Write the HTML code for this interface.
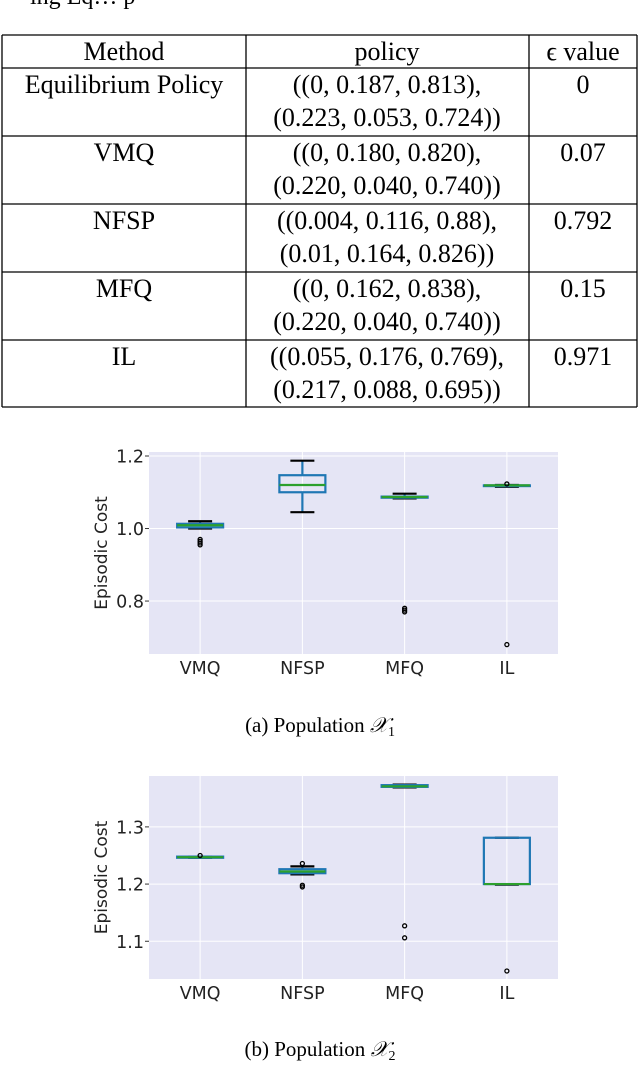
<!DOCTYPE html>
<html><head><meta charset="utf-8"><style>
body{margin:0;background:#fff;width:640px;height:1062px;overflow:hidden}
svg text{font-family:"Liberation Serif",serif}
.s text{font-family:"DejaVu Sans","Liberation Sans",sans-serif}
</style></head><body>
<svg id="root" width="640" height="1062" xmlns="http://www.w3.org/2000/svg">
<text x="30" y="4" font-size="24">ing Eq… p</text>
<g id="table" stroke="#000" stroke-width="1.3"></g>
<g id="c1" class="s"></g>
<text x="320" y="732" font-size="21" text-anchor="middle">(a) Population <tspan font-style="italic">𝒳</tspan><tspan font-size="14" dy="4">1</tspan></text>
<g id="c2" class="s"></g>
<text x="320" y="1056" font-size="21" text-anchor="middle">(b) Population <tspan font-style="italic">𝒳</tspan><tspan font-size="14" dy="4">2</tspan></text>
</svg>
<script>
const NS="http://www.w3.org/2000/svg";
function mk(p,t,a){const e=document.createElementNS(NS,t);for(const k in a)e.setAttribute(k,a[k]);p.appendChild(e);return e;}
// table
const methods=["Equilibrium Policy","VMQ","NFSP","MFQ","IL"];
const pol1=["((0, 0.187, 0.813),","((0, 0.180, 0.820),","((0.004, 0.116, 0.88),","((0, 0.162, 0.838),","((0.055, 0.176, 0.769),"];
const pol2=["(0.223, 0.053, 0.724))","(0.220, 0.040, 0.740))","(0.01, 0.164, 0.826))","(0.220, 0.040, 0.740))","(0.217, 0.088, 0.695))"];
const eps=["0","0.07","0.792","0.15","0.971"];
const T=document.getElementById('table');
const xs=[2,246,529,637];
[35,68,136,204,272,340,407].forEach(y=>{const l=mk(T,'line',{x1:2,x2:637,y1:y,y2:y});});
xs.forEach(x=>{const l=mk(T,'line',{x1:x,x2:x,y1:35,y2:407});});
function tt(x,y,s,n){const t=mk(T,'text',{x:x,y:y,'font-size':26,'text-anchor':'middle',stroke:'none',fill:'#000'});t.textContent=s;}
tt(124,60,"Method","header-method");tt(387,60,"policy","header-policy");tt(583,60,"ϵ value","header-epsilon");
methods.forEach((m,i)=>{const y=93+i*68;tt(124,y,m,"method-cell");tt(387,y,pol1[i],"policy-cell");tt(387,y+33,pol2[i],"policy-cell");tt(583,y,eps[i],"epsilon-cell");});
// charts
const cats=["VMQ","NFSP","MFQ","IL"];
const lo1=[1.000,1.045,1.083,1.115],q11=[1.003,1.100,1.085,1.117],med1=[1.009,1.120,1.087,1.119],q31=[1.013,1.147,1.088,1.119],hi1=[1.020,1.187,1.096,1.120];
const out1=[[0.955,0.96,0.965,0.97],[],[0.77,0.775,0.78],[0.68,1.123]];
const ticks1=[0.8,1.0,1.2];
const lo2=[1.246,1.217,1.369,1.199],q12=[1.246,1.219,1.370,1.200],med2=[1.247,1.222,1.371,1.200],q32=[1.248,1.226,1.373,1.281],hi2=[1.248,1.231,1.374,1.281];
const out2=[[1.250],[1.236,1.195,1.198],[1.106,1.127],[1.048]];
const ticks2=[1.1,1.2,1.3];
function chart(id,top,bot,ymin,ymax,lo,q1,med,q3,hi,out,ticks){
 const g=document.getElementById(id),L=149,R=558;
 const y=v=>bot-(v-ymin)/(ymax-ymin)*(bot-top);
 const x=i=>L+(i+0.5)*(R-L)/cats.length;
 const bg=mk(g,'rect',{x:L,y:top,width:R-L,height:bot-top,fill:'#e5e5f5'});
 ticks.forEach(t=>{const l=mk(g,'line',{x1:L,x2:R,y1:y(t),y2:y(t),stroke:'#fff','stroke-width':1});
  const tk=mk(g,'line',{x1:L-4,x2:L,y1:y(t),y2:y(t),stroke:'#333'});
  const tx=mk(g,'text',{x:L-5,y:y(t)+6.5,'font-size':17.5,'text-anchor':'end',fill:'#222'});tx.textContent=t.toFixed(1);});
 cats.forEach((c,i)=>{const cx=x(i);
  const vl=mk(g,'line',{x1:cx,x2:cx,y1:top,y2:bot,stroke:'#fff','stroke-width':1});
  const w=mk(g,'line',{x1:cx,x2:cx,y1:y(hi[i]),y2:y(q3[i]),stroke:'#1f77b4','stroke-width':2.2});
  const w2=mk(g,'line',{x1:cx,x2:cx,y1:y(q1[i]),y2:y(lo[i]),stroke:'#1f77b4','stroke-width':2.2});
  [lo[i],hi[i]].forEach(v=>{const c2=mk(g,'line',{x1:cx-12,x2:cx+12,y1:y(v),y2:y(v),stroke:'#000','stroke-width':2.2});});
  const b=mk(g,'rect',{x:cx-23,y:y(q3[i]),width:46,height:Math.max(y(q1[i])-y(q3[i]),0.5),fill:'none',stroke:'#1f77b4','stroke-width':2.2});
  const m=mk(g,'line',{x1:cx-23,x2:cx+23,y1:y(med[i]),y2:y(med[i]),stroke:'#2ca02c','stroke-width':2.2});
  out[i].forEach(v=>{const o=mk(g,'circle',{cx:cx,cy:y(v),r:2,fill:'none',stroke:'#000','stroke-width':1.3});});
  const tx=mk(g,'text',{x:cx,y:bot+20,'font-size':17.5,'text-anchor':'middle',fill:'#222'});tx.textContent=c;});
 const yl=mk(g,'text',{x:0,y:0,'font-size':17,'text-anchor':'middle',fill:'#222',transform:`translate(107,${(top+bot)/2}) rotate(-90)`});yl.textContent="Episodic Cost";
}
chart('c1',452,654,0.654,1.211,lo1,q11,med1,q31,hi1,out1,ticks1);
chart('c2',776,979,1.034,1.389,lo2,q12,med2,q32,hi2,out2,ticks2);
</script>
</body></html>
